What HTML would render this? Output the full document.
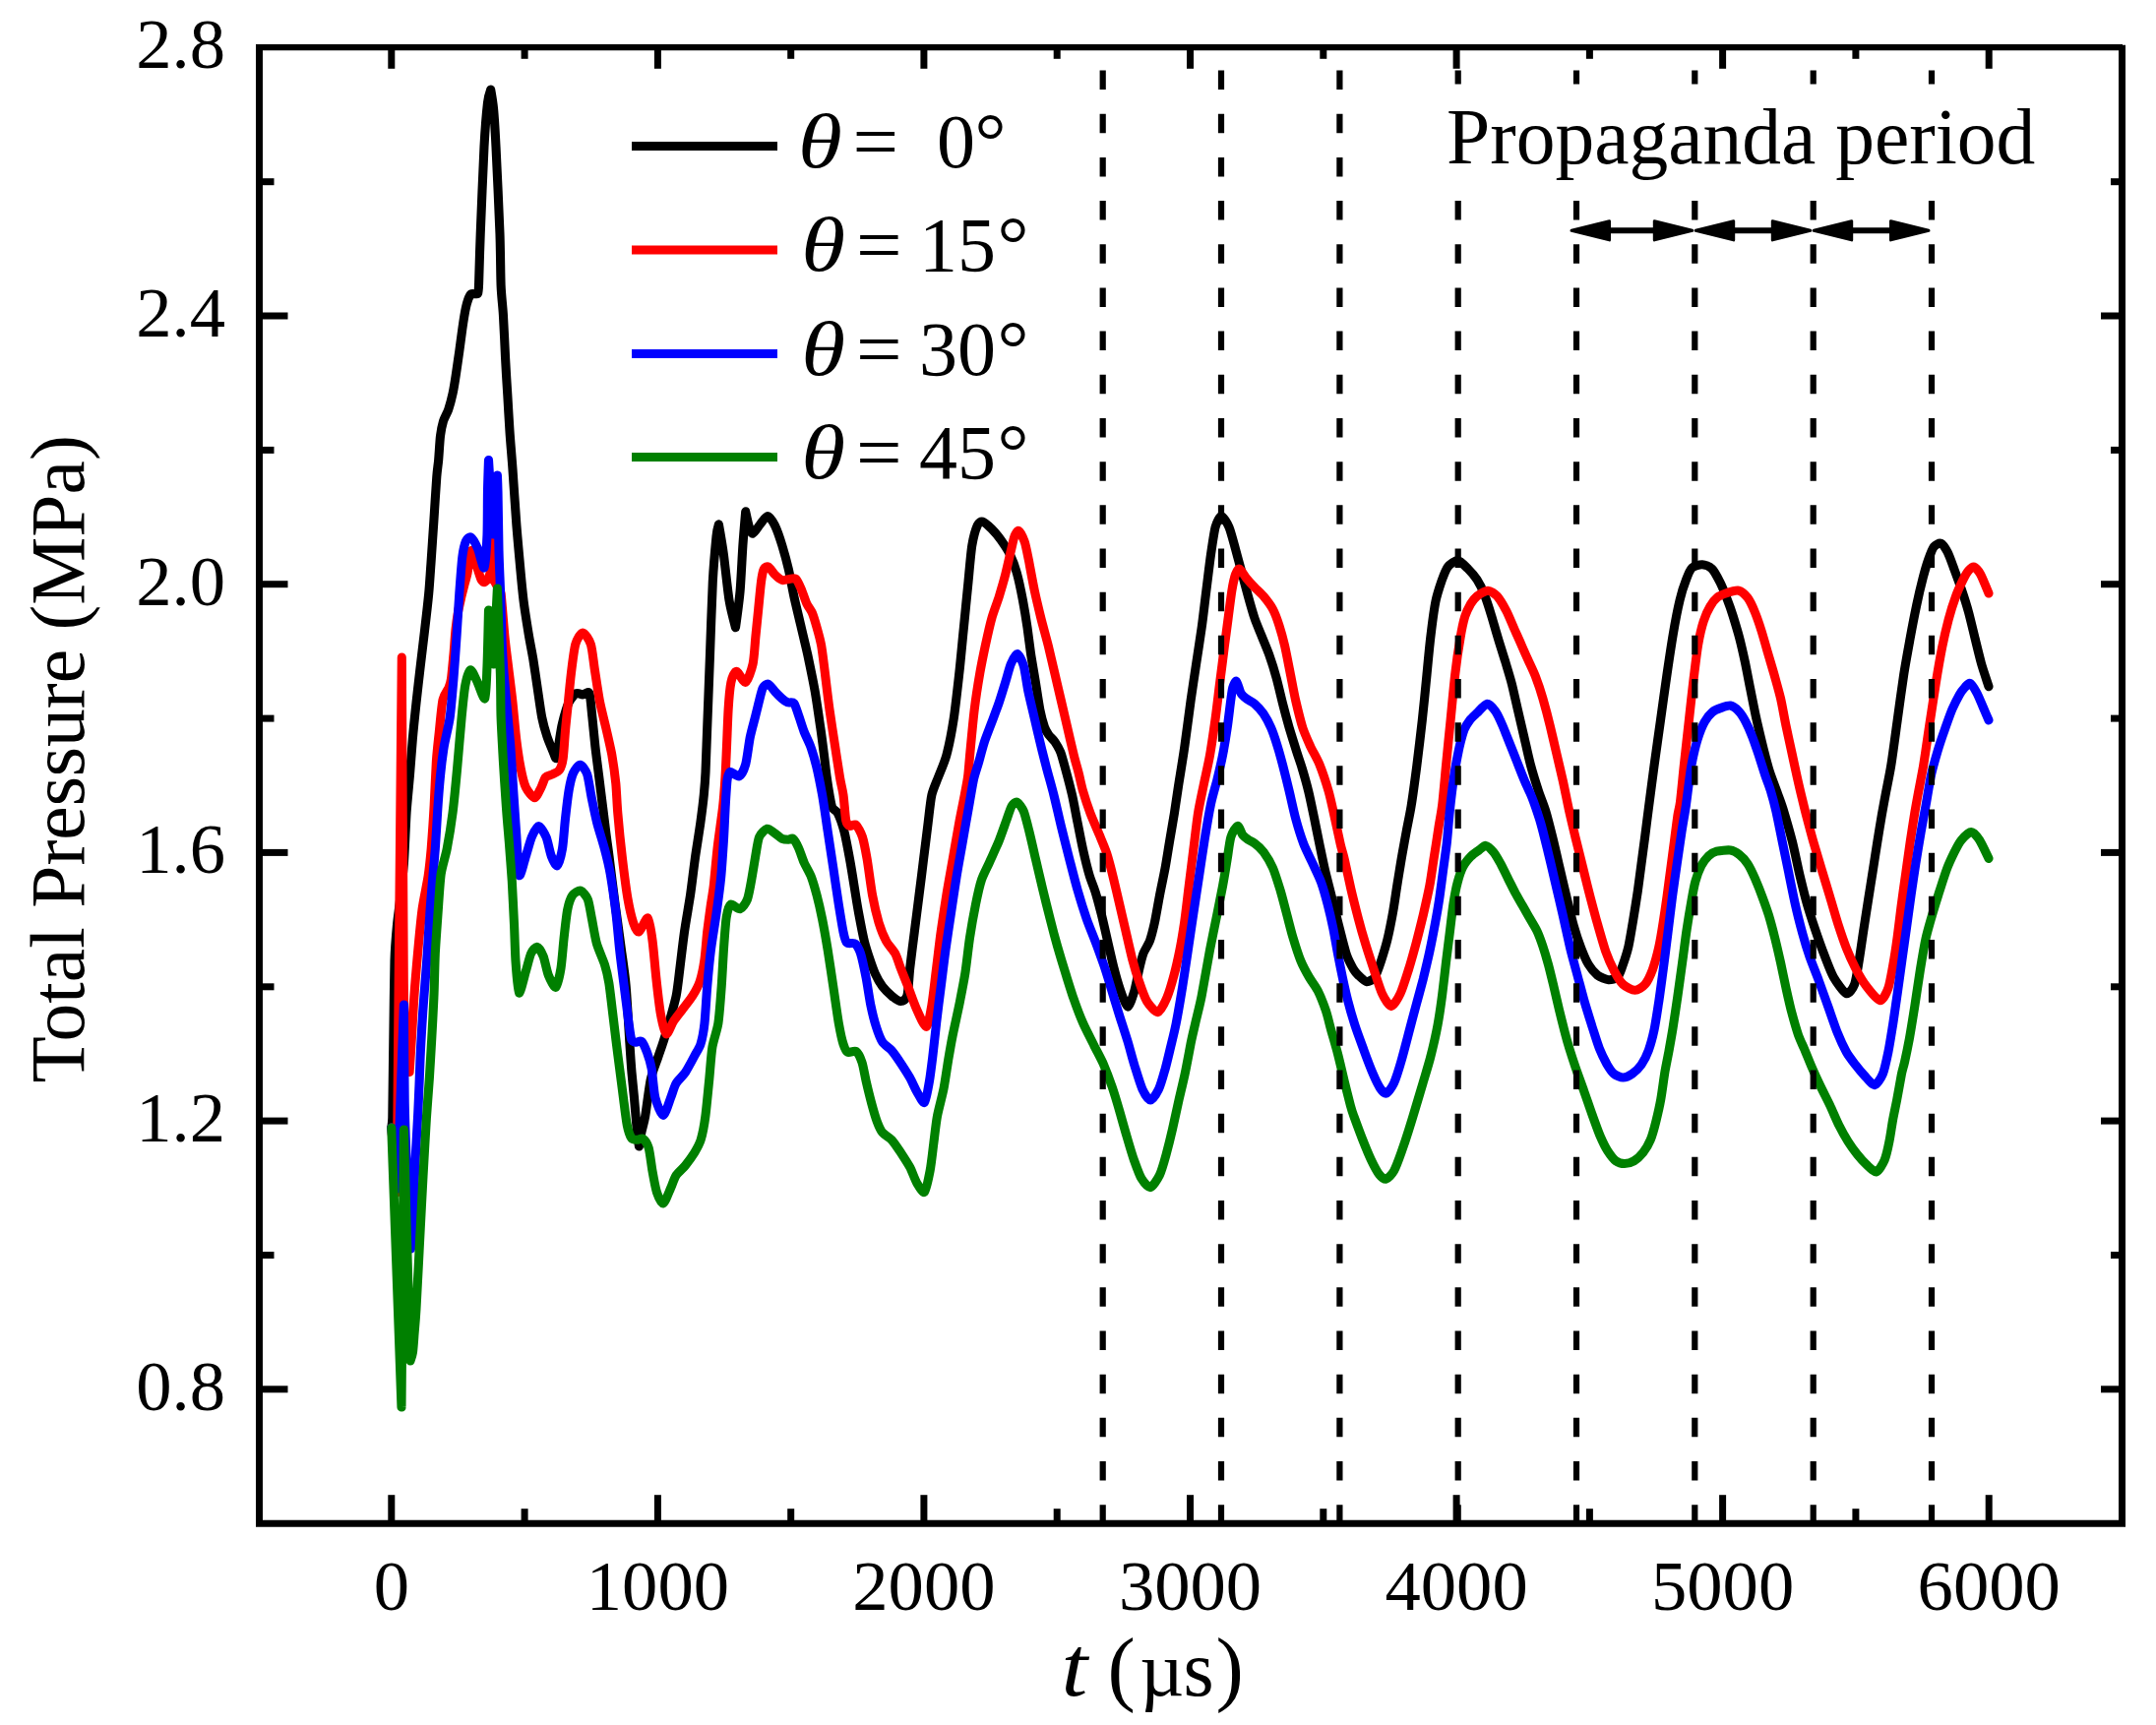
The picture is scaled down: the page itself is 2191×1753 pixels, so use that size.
<!DOCTYPE html>
<html lang="en"><head><meta charset="utf-8"><title>Total pressure vs time</title>
<style>html,body{margin:0;padding:0;background:#fff}body{width:2191px;height:1753px;overflow:hidden}svg{display:block}text{font-family:"Liberation Serif",serif;fill:#000}.it{font-style:italic}</style></head><body>
<svg width="2191" height="1753" viewBox="0 0 2191 1753">
<rect x="0" y="0" width="2191" height="1753" fill="#fff"/>
<g fill="none" stroke-width="9.1" stroke-linecap="round" stroke-linejoin="round">
<path stroke="#000" d="M397.8,1146C397.9,1144.8 398.7,1141 398.8,1136C398.9,1131 399.7,1063 400,1043C400.3,1023 400.6,988.9 401,976C401.4,963.1 402.8,947.4 403.5,940C404.2,932.6 405.4,924.8 406.3,917C407.2,909.2 409.5,888.9 410.4,877.5C411.2,866.1 412.4,836.6 413.1,825.5C413.9,814.4 415.6,797.7 416.4,788.4C417.2,779.1 418.5,760.6 419.3,751.3C420.1,742 422,723.5 423,714.2C424,705 426.1,686.5 427.2,677.3C428.3,668 430.5,649.5 431.6,640.2C432.7,631 434.9,611.6 435.7,603.3C436.5,595 437.2,582.9 437.9,573.6C438.5,564.3 440.2,540.1 440.9,529C441.6,517.9 443.2,492.1 443.8,484.5C444.4,476.9 445.1,473.3 445.6,468.1C446.1,462.9 446.9,448 447.5,443C448.1,438 449.5,431.4 450.5,428C451.5,424.6 454.5,419.7 455.7,416.2C456.9,412.7 459.1,404.4 460.1,399.8C461.1,395.2 462.8,384.4 463.6,379C464.4,373.6 466,362.4 466.8,356.8C467.6,351.2 469,340.1 469.8,334.5C470.6,328.9 472.5,316.7 473.5,312.3C474.5,307.9 476.9,301.2 478,299.5C479.1,297.8 481.1,298.8 482,298.6C482.9,298.4 485,299.5 485.6,298.2C486.2,296.9 486.4,293.1 486.6,288C486.8,282.9 487.5,255.5 488.2,238.1C488.9,220.7 491.1,165.7 492,149C492.9,132.3 494.7,111.4 495.5,104.5C496.3,97.6 498.7,91 498.7,91C498.7,91 500.8,102.8 501.5,110C502.2,117.2 503.2,133 504,149C504.8,165 507.4,220.4 508,238C508.6,255.6 508.7,279.8 509.1,290C509.5,300.2 510.8,310.4 511.4,319.7C512,329 513.1,354 513.6,364.2C514.1,374.4 515.2,392 515.8,401.3C516.3,410.6 517.4,428.9 518,438.4C518.6,447.9 520.2,465.5 521,477.1C521.8,488.7 523.8,518.9 524.7,531C525.6,543.1 527.5,563.6 528.4,573.6C529.3,583.6 531,601.8 532.1,610.7C533.2,619.6 536.1,637.6 537.3,645C538.5,652.4 540.7,662.9 541.8,669.7C542.9,676.5 545.1,692 546.2,699.4C547.3,706.8 549.5,722.9 550.7,729C551.9,735.1 554.5,744.1 555.9,748.4C557.3,752.7 560.6,760.4 561.8,763.2C563,766 564.7,772 565.5,770.6C566.3,769.2 567.8,756.5 568.5,752C569.2,747.5 570.3,739.8 571.5,735C572.7,730.2 576.2,717.8 578,714C579.8,710.2 583.8,705.6 585.6,704.6C587.4,703.6 590.5,706 592.2,706C593.9,706 597.7,701.7 598.9,704.6C600.1,707.5 601.1,722.2 601.9,729C602.6,735.8 604.1,751.3 604.9,758.7C605.7,766.1 607.7,781 608.6,788.4C609.5,795.8 611.4,810.7 612.3,818.1C613.2,825.5 615.2,841.3 616,847.8C616.8,854.3 617.9,861.2 619,870C620.1,878.8 623.4,906.1 625,918C626.6,929.9 630.1,954.9 631.5,965.5C632.9,976.1 635.2,990.8 636.2,1002.6C637.2,1014.4 639.2,1049.1 639.9,1060C640.6,1070.9 641.4,1083 642,1090C642.6,1097 643.9,1108.8 644.5,1115.7C645.1,1122.6 646.4,1138.8 647,1145C647.6,1151.2 649.4,1165 649.4,1165C649.4,1165 651.2,1153.8 652,1150C652.8,1146.2 654.6,1140.8 655.7,1134.2C656.9,1127.6 659.6,1104.5 661.2,1097.1C662.8,1089.7 667,1079.6 668.6,1074.8C670.2,1070 672.8,1062.7 674.2,1058.3C675.6,1053.9 678.2,1045.5 679.8,1039.7C681.4,1033.9 685.8,1018.9 687.2,1011.9C688.6,1004.9 689.9,992.2 690.9,984.1C691.9,976 694.2,956.3 695.5,947C696.8,937.7 700.1,919.2 701.5,909.9C702.9,900.6 705,882.1 706.3,872.8C707.6,863.5 710.8,843.8 711.9,835.7C713,827.6 714.7,814.1 715.3,807.8C715.9,801.5 716.6,793.5 717,785C717.4,776.5 718.1,754.6 718.7,739.7C719.3,724.8 720.8,684 721.5,665.5C722.2,647 723.5,606.4 724.3,591.3C725.1,576.2 727.4,551 728,544.9C728.6,538.8 730.4,532.9 730.4,532.9C730.4,532.9 734.1,553.9 735.4,563.5C736.7,573.1 739.5,600.6 741,609.9C742.5,619.2 747.5,637.7 747.5,637.7C747.5,637.7 751.2,611 752.1,600.6C753,590.2 754.2,564.3 754.9,554.2C755.6,544.1 757.7,519.9 757.7,519.9C757.7,519.9 760.5,532.9 761.4,535.7C762.3,538.5 763.7,542.6 765.1,542.2C766.5,541.9 770.6,535.1 772.5,532.9C774.4,530.7 778.1,524.4 780,524.5C781.9,524.6 785.5,530.1 787.4,533.8C789.2,537.5 793.1,548.6 794.8,554.2C796.5,559.8 799.8,571.8 801.3,578.3C802.8,584.8 805.4,599.2 806.9,606.2C808.4,613.2 811.7,626.6 813.4,634C815.1,641.4 818.9,656.9 820.8,665.5C822.6,674.1 826.6,693.3 828.2,702.6C829.8,711.9 832.6,731.6 833.8,739.7C835,747.8 836.7,761.3 837.5,767.6C838.3,773.9 839.5,785 840.2,790C840.9,795 842.3,803.9 843,807.8C843.7,811.6 844.8,818.5 845.8,820.8C846.8,823.1 849.9,823.4 851.4,826.4C852.9,829.4 856.4,839.1 857.9,844.9C859.4,850.7 862.2,865.8 863.5,872.8C864.8,879.8 867,893.6 868.1,900.6C869.2,907.6 871.4,921.4 872.7,928.4C874,935.4 876.9,950.5 878.3,956.3C879.7,962.1 882.5,970.6 883.9,974.8C885.3,979 887.8,986.2 889.4,989.7C891,993.2 894.7,999.8 896.8,1002.6C898.9,1005.4 903.8,1010 906.1,1011.9C908.4,1013.8 913.4,1017.5 915.4,1017.5C917.4,1017.5 920.7,1016 921.9,1011.9C923.1,1007.8 923.8,992.2 924.7,984.1C925.6,976 928.1,956.3 929.3,947C930.5,937.7 932.8,919.2 934,909.9C935.2,900.6 937.5,882.1 938.6,872.8C939.8,863.5 942.2,843.8 943.2,835.7C944.2,827.6 945.6,813.5 946.9,807.8C948.2,802.1 951.5,795 953.4,790C955.3,785 959.8,775 961.8,767.6C963.8,760.2 967.6,740.9 969.2,730.5C970.8,720.1 973.5,695.7 974.8,684.1C976.1,672.5 978.2,649.3 979.4,637.7C980.5,626.1 983,601.7 984,591.3C985,580.9 986.6,561.4 987.8,554.2C989,547 992,536.7 993.3,533.8C994.6,530.9 996.8,529.6 998.6,530.1C1000.4,530.6 1005.5,535.2 1007.8,537.5C1010.1,539.8 1014.8,545.4 1017.1,548.6C1019.4,551.9 1024.4,559.3 1026.4,563.5C1028.4,567.7 1031.7,576.3 1033.3,582.1C1034.9,587.9 1038.1,603 1039.4,609.9C1040.7,616.8 1043,630.8 1044,637.7C1045,644.7 1046.7,658.5 1047.7,665.5C1048.8,672.5 1051.3,686.5 1052.4,693.4C1053.5,700.3 1055.7,715.4 1056.8,721.1C1057.9,726.7 1060.3,735.6 1061.4,738.8C1062.5,742 1064.4,744.9 1065.7,746.8C1067,748.7 1070.4,751.5 1071.9,753.7C1073.3,755.8 1076.3,760.8 1077.7,764.2C1079,767.5 1081,775.1 1082.5,780.6C1084,786.1 1087.9,800.9 1089.5,807.8C1091.1,814.7 1093.6,828.7 1095,835.7C1096.4,842.7 1099.1,856.8 1100.6,863.5C1102.1,870.2 1105.5,884.1 1107.1,889.5C1108.7,894.9 1111.6,901.5 1113.1,906.4C1114.6,911.2 1117.5,922.2 1119.1,928.4C1120.7,934.6 1124,949.3 1125.6,956.3C1127.2,963.3 1130.5,977.8 1132.1,984.1C1133.7,990.4 1136.9,1001.5 1138.6,1006.4C1140.3,1011.3 1144.3,1022.9 1146,1023.1C1147.7,1023.3 1151,1013 1152.5,1008.2C1154,1003.4 1156.6,989.4 1157.8,984.5C1158.9,979.6 1160.5,972.8 1161.8,969.2C1163.1,965.6 1167.1,959.9 1168.5,956C1170,952 1172.1,943.4 1173.4,937.6C1174.6,931.8 1177.2,916.8 1178.5,909.9C1179.8,903 1182.8,889 1184.1,882C1185.4,875 1187.5,861.2 1188.7,854.2C1189.9,847.2 1192.3,833.3 1193.4,826.4C1194.5,819.5 1196.2,807.5 1197.5,799C1198.8,790.5 1202.4,769.1 1203.9,758.2C1205.5,747.3 1208.6,722.3 1210.1,711.9C1211.6,701.5 1214.2,684.1 1215.6,674.8C1217,665.5 1219.9,647 1221.2,637.7C1222.5,628.4 1224.6,609.9 1225.8,600.6C1227,591.3 1229.3,571.6 1230.5,563.5C1231.7,555.4 1233.8,540.6 1235.1,535.7C1236.4,530.8 1239.5,524.5 1241.2,524.5C1242.9,524.5 1247.2,531.5 1249,535.7C1250.8,539.9 1253.9,552.1 1255.5,557.9C1257.1,563.7 1260.4,576 1262,582C1263.6,588 1266.9,600.4 1268.5,606.2C1270.1,612 1273.3,623.3 1275,628.4C1276.7,633.5 1280.6,642.4 1282.4,647C1284.2,651.6 1287.9,660.2 1289.8,665.5C1291.7,670.8 1295.6,683.3 1297.3,689.6C1299,695.9 1302.1,709.3 1303.7,715.6C1305.3,721.9 1308.5,733.7 1310.2,739.7C1312,745.7 1316.1,758.8 1317.7,763.9C1319.3,769 1321.7,775.6 1323.2,780.6C1324.7,785.6 1328.2,797.9 1329.7,804.1C1331.2,810.3 1333.9,823.4 1335.3,830.1C1336.7,836.8 1339.5,851.2 1340.9,857.9C1342.3,864.6 1345,877.9 1346.4,883.9C1347.8,889.9 1350.6,900.6 1352,906.2C1353.4,911.8 1356.1,922.8 1357.5,928.4C1358.9,934 1361.7,945.4 1363.1,950.7C1364.5,956 1367.2,966.8 1368.7,971.1C1370.2,975.4 1374,982.4 1375.4,984.9C1376.9,987.4 1378.7,989.5 1380.4,991.1C1382.1,992.7 1386.7,997.4 1388.8,997.6C1390.9,997.8 1395.2,995.7 1397.1,993C1398.9,990.3 1402,981.2 1403.6,976.3C1405.2,971.4 1408.6,960.3 1410.1,954C1411.6,947.7 1414.4,933.4 1415.7,926.2C1417,919 1419.1,903.7 1420.3,896.5C1421.5,889.3 1423.7,875.3 1424.9,868.6C1426.1,861.9 1428.4,849 1429.6,842.7C1430.8,836.5 1432.9,826.7 1434.2,818.6C1435.5,810.5 1438.4,789.1 1439.8,778.3C1441.2,767.5 1444,743.5 1445.3,731.9C1446.6,720.3 1449,695.9 1450,685.5C1451,675.1 1452.6,657.7 1453.7,648.4C1454.8,639.1 1457.4,618.7 1458.9,611.4C1460.3,604.1 1463.7,594.3 1465.2,589.9C1466.8,585.5 1469.3,578.6 1471.3,576.1C1473.3,573.6 1479,569.4 1481.5,569.6C1484,569.8 1489.3,575.5 1491.7,577.9C1494.1,580.3 1498.9,585.9 1501,589.1C1503.1,592.4 1506.6,599.3 1508.4,603.9C1510.2,608.5 1514.1,620.6 1515.8,626.2C1517.5,631.8 1520.5,642.6 1522.3,648.4C1524,654.2 1528,666.7 1529.8,672.5C1531.5,678.3 1534.7,688.5 1536.3,694.8C1537.9,701.1 1541.1,715.6 1542.7,722.6C1544.3,729.6 1547.6,743.5 1549.2,750.5C1550.8,757.5 1553.9,771.6 1555.7,778.3C1557.5,785 1561.6,798.2 1563.5,804C1565.4,809.8 1569,818.3 1570.8,824.3C1572.6,830.3 1576.3,845 1578,851.9C1579.7,858.8 1582.8,872.4 1584.5,879.8C1586.2,887.2 1590.1,903.6 1591.9,911.3C1593.8,918.9 1597.5,934.5 1599.3,941C1601.1,947.5 1604.8,958.4 1606.7,963.3C1608.6,968.2 1612.1,976.5 1614.2,980C1616.3,983.5 1621,989.1 1623.5,991.1C1626,993.1 1632,995.5 1634.6,995.7C1637.1,995.9 1642.1,994.8 1643.9,993C1645.7,991.2 1647.5,985.4 1648.9,981.5C1650.3,977.5 1653.7,967.2 1655,961.4C1656.3,955.6 1658.4,942.4 1659.6,935.4C1660.8,928.4 1663.2,912.9 1664.3,905.7C1665.3,898.5 1667.1,884.9 1668,877.9C1668.9,870.9 1670.8,857.2 1671.7,850.1C1672.6,843 1674.2,830 1675.4,821C1676.6,812 1679.5,789.4 1681,778.3C1682.5,767.2 1685.9,743.5 1687.5,731.9C1689.1,720.3 1692.4,696.4 1694,685.5C1695.6,674.6 1698.6,654.5 1700.2,645C1701.8,635.5 1705.4,616.8 1707.1,609.8C1708.7,602.9 1711.9,593.3 1713.5,589.2C1715,585.1 1717.4,578.9 1719.5,577C1721.6,575.1 1727.4,573.7 1729.9,573.8C1732.4,573.9 1737.3,575.6 1739.6,577.9C1741.9,580.1 1746,587.8 1748,591.8C1750,595.8 1753.8,605.2 1755.4,609.5C1757.1,613.8 1759.7,621.3 1761.2,626.2C1762.7,631.1 1766.2,642.6 1767.7,648.4C1769.2,654.2 1771.9,666 1773.3,672.5C1774.7,679 1777.4,693.4 1778.8,700.4C1780.2,707.4 1782.9,721.2 1784.4,728.2C1785.9,735.2 1789.2,749 1790.9,756C1792.6,763 1796.4,777.8 1798.3,783.9C1800.2,790 1804.3,800.2 1806,805C1807.7,809.8 1810.1,815.7 1812,822C1813.9,828.3 1819.4,847.3 1821.5,855.7C1823.6,864.1 1827,881.2 1828.9,889.1C1830.8,897 1834.4,911.8 1836.4,918.7C1838.4,925.7 1842.5,938.2 1844.7,944.7C1846.9,951.2 1851.7,964.7 1854,970.7C1856.3,976.7 1860.5,988.1 1863.3,993C1866.1,997.9 1873.6,1008.7 1876.3,1009.6C1879,1010.5 1883,1004.6 1884.6,1000.4C1886.2,996.2 1888,983.3 1889.2,976.3C1890.4,969.3 1892.7,952.4 1893.9,944.7C1895.1,937 1897.3,922.4 1898.5,915C1899.7,907.6 1902,892.7 1903.2,885.3C1904.4,877.9 1906.6,862.9 1907.8,855.7C1909,848.5 1911.3,834.1 1912.4,827.8C1913.5,821.5 1915.4,811.2 1916.6,805C1917.8,798.8 1920.2,787.4 1921.7,778.3C1923.2,769.2 1926.6,743.5 1928.2,731.9C1929.8,720.3 1933.1,695.9 1934.7,685.5C1936.3,675.1 1939.6,657.2 1941.2,648.4C1942.8,639.6 1946.1,622.6 1947.7,615C1949.3,607.4 1952.7,593 1954.2,587.2C1955.7,581.4 1958.3,572.5 1959.7,568.6C1961.1,564.7 1963.7,557.7 1965.3,555.7C1966.9,553.7 1970.7,551.6 1972.4,552.3C1974.1,553 1977.5,558 1979.2,561.2C1980.9,564.4 1984,573.3 1985.7,577.9C1987.4,582.5 1991.2,592.7 1993.1,598.3C1995,603.9 1998.9,616.1 2000.6,622.4C2002.3,628.7 2005.4,641.9 2007,648.4C2008.6,654.9 2011.8,668.2 2013.5,674.4C2015.2,680.5 2020.1,694.7 2021,697.6"/>
<path stroke="#ff0000" d="M397.8,1146C398.5,1154.2 403.2,1212 403.2,1212C403.2,1212 408.3,668 408.3,668C408.3,668 410,966 410.3,1000C410.6,1034 411.6,1057.1 412.3,1068C413,1078.9 416.1,1089.5 416.1,1089.5C416.1,1089.5 418,1060.2 418.6,1050.7C419.2,1041.2 420.1,1023.8 420.8,1013.6C421.5,1003.4 423.5,980.1 424.5,969C425.5,957.9 427.7,934.4 429,924.5C430.3,914.6 434.1,897.7 435.2,890C436.3,882.3 437.4,871.6 438.2,862.6C438.9,853.6 440.6,829.2 441.2,818.1C441.8,807 442.8,782.9 443.4,773.6C444,764.3 445.5,751.7 446.3,743.9C447.1,736.1 448.8,716.8 450,711.2C451.2,705.6 454.9,701.6 456,699C457.1,696.4 457.9,694.2 458.5,690C459.1,685.8 460.4,671.2 461,665C461.6,658.8 462.4,645.4 463,640C463.6,634.6 464.8,626 465.5,622C466.2,618 467.7,611.5 468.5,608C469.3,604.5 471.2,597.2 472,594C472.8,590.8 474.1,586.8 475,582.5C475.9,578.2 478,560.6 479.1,559.5C480.2,558.4 482.6,569.9 483.9,573.6C485.1,577.3 488.1,587.3 489.1,589.2C490.1,591.1 491.7,592.2 492.8,591.4C493.9,590.6 497.1,587.6 498,582.5C498.9,577.4 500.2,550.6 500.2,550.6C500.2,550.6 501.5,584.2 502,588.4C502.5,592.6 504.6,594.1 505.5,596C506.4,597.9 508.5,599.3 509.1,603.3C509.7,607.3 512.1,638.6 513,647.8C513.9,657 515.5,668.7 516.5,677C517.5,685.3 520,704.9 521,714.2C522,723.5 523.7,742.9 524.7,751.3C525.7,759.6 528,774.9 529.2,781C530.4,787.1 532.6,796.6 534.4,800.3C536.2,804 541.4,810.7 543.3,810.7C545.2,810.7 548.5,802.9 549.9,800.3C551.3,797.7 553,791.6 554.4,789.9C555.8,788.2 559.3,787.9 561.1,787C562.9,786.1 567.1,784.5 568.5,782.5C569.9,780.5 571.5,775.4 572.2,770.6C572.9,765.8 573.8,750.9 574.4,743.9C575,736.9 576.6,721.6 577.4,714.2C578.1,706.8 579.5,691.9 580.4,684.5C581.3,677.1 583.3,660 584.8,654.8C586.3,649.6 590.2,643 592.2,643C594.2,643 598.9,650.2 600.4,654.8C601.9,659.4 603.2,672.9 604.3,680C605.4,687.1 607.9,704.4 609.3,711.9C610.7,719.4 614.2,732.8 615.8,739.7C617.4,746.6 620.5,760 621.8,767C623,774 625,788.6 625.8,796C626.5,803.4 627,816.8 627.8,826.4C628.6,836 631.2,861.9 632.5,872.8C633.8,883.7 636.6,905.5 638,913.6C639.4,921.7 642.2,933.5 643.6,937.7C645,941.9 647.4,947.6 649.2,947C651.1,946.4 656.7,931.8 658.4,933C660.1,934.2 662.1,948.8 663.1,956.3C664.1,963.8 665.8,984.1 666.8,993.4C667.8,1002.7 670.1,1023.3 671.4,1030.5C672.7,1037.7 675.4,1050 677,1050.9C678.6,1051.8 682.4,1040.9 684.4,1037.9C686.4,1034.9 690.4,1030 692.8,1026.7C695.2,1023.5 701.6,1015.6 703.9,1011.9C706.2,1008.2 709.8,1001.7 711.3,997.1C712.8,992.5 715.1,981.1 716,974.8C716.9,968.5 718,953.6 718.7,947C719.5,940.4 721.2,927.9 722,922C722.8,916.1 724.4,907.8 725.3,900C726.2,892.2 728.1,870 729.3,860C730.5,850 733.6,828.8 734.6,820C735.6,811.2 736.5,797.7 737,790C737.5,782.3 738.1,766.9 738.5,758.3C738.9,749.7 739.6,729.3 740.1,721.2C740.6,713.1 741.9,698.3 742.9,693.4C743.9,688.5 746.5,682.2 748.4,682.2C750.2,682.2 755.6,694.3 757.7,693.4C759.8,692.5 763.8,680.6 765.1,674.8C766.4,669 767.2,654 767.9,647C768.6,640 770,626.1 770.7,619.1C771.4,612.1 772.8,596.4 773.5,591.3C774.2,586.2 775.4,580.2 776.3,578.3C777.2,576.4 779.5,575.4 780.9,576.1C782.3,576.8 785.7,582.2 787.4,583.9C789.1,585.6 792.9,588.9 794.8,589.5C796.6,590.1 800.5,588.7 802.2,588.5C803.9,588.3 807.2,586.9 808.7,588.2C810.2,589.5 812.9,595.5 814.3,598.7C815.7,601.9 818.5,610.6 819.9,613.6C821.3,616.6 824.1,619.9 825.4,622.9C826.7,625.9 828.9,633.5 830.1,637.7C831.3,641.9 833.7,650.5 834.7,656.3C835.7,662.1 837.4,676 838.4,684.1C839.4,692.2 841.7,711.9 843,721.2C844.3,730.5 847.3,749.7 848.6,758.3C849.9,766.9 852.5,783.8 853.5,790C854.5,796.2 856.2,802.3 857,807.8C857.8,813.3 859,830.5 859.7,833.8C860.4,837.1 862.2,838.8 863.5,839.4C864.8,840 868.4,837 870,838.4C871.6,839.8 875,846.2 876.4,850.5C877.8,854.8 879.8,865.4 881.1,872.8C882.4,880.2 885.1,901.8 886.6,909.9C888.1,918 891.4,931.9 893.1,937.7C894.9,943.5 898.5,952.4 900.6,956.3C902.7,960.2 907.9,965.7 909.8,969.2C911.6,972.7 913.8,979.9 915.4,984.1C917,988.3 920.8,997.5 922.8,1002.6C924.8,1007.7 928.9,1019.8 931.2,1024.9C933.5,1030 939.4,1043.9 941.4,1043.4C943.4,1042.9 945.6,1028.6 946.9,1021.2C948.2,1013.8 950.4,993.4 951.6,984.1C952.8,974.8 954.9,956.3 956.2,947C957.5,937.7 960.3,919.2 961.8,909.9C963.3,900.6 966.7,882.1 968.3,872.8C969.9,863.5 973.3,843.8 974.8,835.7C976.3,827.6 979.2,813.5 980.3,807.8C981.4,802.1 982.8,795 983.5,790C984.2,785 984.8,776.2 985.6,767.6C986.4,759 988.9,731.6 990.2,721.2C991.5,710.8 994.4,692.2 995.8,684.1C997.2,676 999.8,663.3 1001.3,656.3C1002.8,649.3 1006,634.7 1007.8,628.4C1009.5,622.1 1013.6,611.8 1015.3,606.2C1017,600.6 1020.2,589.7 1021.7,583.9C1023.2,578.1 1026.1,564.7 1027.3,559.8C1028.5,554.9 1030,547.4 1031,544.9C1032,542.4 1034,538.7 1035.3,539.4C1036.6,540.1 1039.9,546.8 1041.2,550.5C1042.5,554.2 1044.1,562.9 1045.4,569.2C1046.6,575.5 1049.8,593.2 1051.4,600.6C1053,608 1056.2,621.4 1057.9,628.4C1059.6,635.4 1063.6,649.3 1065.3,656.3C1067,663.3 1070.2,677.1 1071.8,684.1C1073.4,691.1 1076.7,704.9 1078.3,711.9C1079.9,718.9 1083.2,732.7 1084.8,739.7C1086.4,746.7 1089.9,761.9 1091.3,767.6C1092.7,773.3 1094.8,780.4 1096,785C1097.2,789.6 1099.1,798.9 1100.6,804.1C1102.1,809.3 1105.9,820.8 1108,826.4C1110.1,832 1115.2,843.5 1117.3,848.6C1119.4,853.7 1123,861.9 1124.7,867.2C1126.4,872.5 1129.6,884.8 1131.2,891.3C1132.8,897.8 1136.1,912.1 1137.7,919.1C1139.3,926.1 1142.6,940 1144.2,947C1145.8,954 1149,968.3 1150.7,974.8C1152.4,981.3 1156.2,993.6 1158.1,998.9C1159.9,1004.2 1163.2,1013.8 1165.5,1017.5C1167.8,1021.2 1174.2,1029.1 1176.7,1028.6C1179.2,1028.1 1183.8,1018.7 1185.9,1013.8C1188,1008.9 1191.8,995.7 1193.4,989.7C1195,983.7 1197.6,972 1198.9,965.5C1200.2,959 1202.4,945.8 1203.6,937.7C1204.8,929.6 1207,909.9 1208.2,900.6C1209.4,891.3 1211.6,872.8 1212.8,863.5C1214,854.2 1216.2,834.5 1217.5,826.4C1218.8,818.3 1221.5,806 1223,798.6C1224.5,791.2 1228,776.1 1229.5,767.6C1231,759.1 1233.8,739.8 1235.1,730.5C1236.4,721.2 1238.5,702.7 1239.7,693.4C1240.9,684.1 1243.4,664.4 1244.4,656.3C1245.5,648.2 1247.2,635.4 1248.1,628.4C1249,621.4 1250.9,606.2 1251.8,600.6C1252.7,595 1254.5,586.7 1255.5,583.9C1256.5,581.1 1258.4,577.8 1259.8,578.3C1261.2,578.8 1264.7,585.3 1266.6,587.6C1268.5,589.9 1272.8,594.6 1275,596.9C1277.2,599.2 1282,603.4 1284.3,606.2C1286.6,609 1291.5,615.4 1293.5,619.1C1295.5,622.8 1298.5,631.1 1300,635.8C1301.5,640.4 1304.2,650.3 1305.6,656.3C1307,662.3 1309.8,677.1 1311.2,684.1C1312.6,691.1 1315.1,705 1316.7,711.9C1318.3,718.8 1322,733.7 1323.8,739.5C1325.7,745.3 1329.5,753.6 1331.6,758.3C1333.7,763 1338.6,771.1 1340.9,776.8C1343.2,782.5 1348.1,797.2 1350.1,804.1C1352.1,811 1355.1,825.2 1356.6,831.9C1358.1,838.6 1361,852.6 1362.2,857.9C1363.4,863.2 1365.2,868.5 1366.5,874.2C1367.8,880 1371.3,896.5 1373,903.9C1374.7,911.3 1378.6,926.6 1380.4,933.6C1382.2,940.6 1385.8,953.1 1387.8,959.6C1389.8,966.1 1394.1,979.2 1396.2,985.5C1398.3,991.8 1402.3,1005 1404.5,1009.6C1406.7,1014.2 1411.5,1022.6 1413.8,1022.6C1416.1,1022.6 1420.9,1014.2 1423.1,1009.6C1425.3,1005 1429.4,991.8 1431.4,985.5C1433.4,979.2 1436.9,966.6 1438.8,959.6C1440.7,952.6 1444.5,937.3 1446.3,929.9C1448,922.5 1451.4,907.6 1452.8,900.2C1454.2,892.8 1456.2,877.9 1457.4,870.5C1458.6,863.1 1461,847.5 1462,840.8C1463,834.1 1464.9,824.8 1465.8,817C1466.7,809.2 1468.5,788.9 1469.5,778.3C1470.5,767.7 1472.9,743.5 1474.1,731.9C1475.2,720.3 1477.5,695.9 1478.7,685.5C1479.9,675.1 1482.7,655.9 1484,648.5C1485.2,641.1 1487.4,630.8 1488.7,626.5C1490,622.2 1492.9,616.5 1494.4,613.9C1496,611.3 1498.8,607.5 1501,605.8C1503.2,604.1 1509.5,600.2 1512.1,600.2C1514.6,600.2 1519.1,603.2 1521.4,605.8C1523.7,608.3 1528.6,616.7 1530.7,620.6C1532.8,624.5 1536.2,633.1 1538.1,637.3C1539.9,641.5 1543.7,649.8 1545.5,654C1547.3,658.2 1551,666.5 1552.9,670.7C1554.8,674.9 1558.5,682.5 1560.4,687.4C1562.3,692.3 1566,703.3 1567.8,709.6C1569.6,715.9 1573.5,730.5 1575.2,737.5C1576.9,744.5 1580.1,758.3 1581.7,765.3C1583.3,772.2 1586.6,786 1588.2,793.1C1589.8,800.2 1592.6,814.6 1594.2,822C1595.8,829.4 1599.4,844.4 1601.2,851.9C1603,859.4 1606.8,874.2 1608.6,881.6C1610.4,889 1614.1,904.1 1616,911.3C1617.9,918.5 1621.5,932.1 1623.5,939.1C1625.5,946.1 1629.7,961 1631.8,967C1633.9,973 1638.4,982.9 1640.6,987.1C1642.8,991.3 1646.8,998 1649.4,1000.4C1652,1002.8 1658.7,1006.3 1661.5,1006.3C1664.3,1006.3 1669.5,1003 1671.7,1000.4C1673.9,997.8 1677.7,989.9 1679.4,985.3C1681.1,980.6 1684.2,969.3 1685.6,963.3C1687,957.3 1689.2,943.8 1690.2,937.3C1691.2,930.8 1693.1,918 1694,911.3C1694.9,904.6 1696.8,890.5 1697.7,883.5C1698.6,876.5 1700.5,862.7 1701.4,855.7C1702.3,848.7 1704.3,832.9 1705.1,827.8C1705.9,822.7 1706.7,821.2 1707.5,815C1708.3,808.8 1710.2,788.7 1711.3,778.3C1712.4,767.9 1715.2,742.9 1716.4,731.9C1717.6,720.9 1719.9,699.6 1721.1,690C1722.3,680.4 1724.4,662.4 1725.7,655C1727,647.6 1729.7,636.1 1731.3,631.2C1732.8,626.3 1736.3,618.9 1738.1,615.9C1739.8,612.9 1743.3,608.6 1745.3,607C1747.2,605.4 1751.1,603.9 1753.8,603C1756.5,602.1 1764,599.6 1766.8,600.2C1769.6,600.8 1774,604.8 1776.1,607.6C1778.2,610.4 1781.8,618.2 1783.5,622.4C1785.2,626.6 1788.4,635.9 1790,641C1791.6,646.1 1794.9,657.7 1796.5,663.3C1798.1,668.9 1801.4,679.7 1803,685.5C1804.6,691.3 1808,703.1 1809.5,709.6C1811,716.1 1813.6,730.8 1815,737.5C1816.4,744.2 1819.2,757 1820.6,763.5C1822,770 1824.9,783.6 1826.2,789.4C1827.5,795.2 1829.8,805.2 1831,810C1832.2,814.8 1833.9,822.1 1835.4,827.8C1836.9,833.5 1840.9,848.7 1842.9,855.7C1844.9,862.7 1849.1,876.5 1851.2,883.5C1853.3,890.5 1857.5,904.3 1859.6,911.3C1861.7,918.2 1865.8,932.6 1867.9,939.1C1870,945.6 1874.1,957.7 1876.3,963.3C1878.5,968.9 1883,978.8 1885.5,983.7C1888,988.6 1893.6,998.1 1896.7,1002.2C1899.8,1006.3 1907.8,1016.5 1910.6,1016.7C1913.4,1016.9 1917.3,1008.5 1918.9,1004.1C1920.5,999.7 1922.4,988.3 1923.6,981.8C1924.8,975.3 1927.2,959.5 1928.2,952.1C1929.2,944.7 1930.9,930.3 1931.9,922.4C1932.9,914.5 1935.3,897.4 1936.5,889.1C1937.7,880.8 1940,863.6 1941.2,855.7C1942.4,847.8 1944.8,832 1945.8,826C1946.8,820 1947.9,814 1949,808C1950.1,802 1953.1,787 1954.6,778.2C1956.1,769.4 1959.1,747.9 1960.7,737.5C1962.3,727.1 1965.6,704.8 1967.2,694.8C1968.8,684.8 1972.1,665.8 1973.7,657.7C1975.3,649.6 1978.4,636.4 1980.1,629.9C1981.8,623.4 1985.7,610.9 1987.6,605.8C1989.5,600.7 1993.4,592.4 1995,589.1C1996.6,585.9 1999.2,581.4 2000.6,579.8C2002,578.2 2004.6,575.6 2006.1,576.1C2007.6,576.6 2010.7,580.1 2012.6,583.5C2014.5,586.9 2020,600.6 2021,603"/>
<path stroke="#0000ff" d="M397.8,1146C398.6,1153.8 403.8,1208 403.8,1208C403.8,1208 410.4,1021 410.4,1021C410.4,1021 410.8,1097.6 411.2,1120C411.6,1142.4 413.2,1181.4 414,1200C414.8,1218.6 417.5,1269 417.5,1269C417.5,1269 418.8,1258.4 419.3,1248.4C419.8,1238.4 421,1203 421.6,1189C422.2,1175 423.9,1146.8 424.5,1136C425.1,1125.2 425.6,1111.4 426,1102.6C426.4,1093.8 427,1074.8 427.5,1065.5C428,1056.2 429.1,1036.8 429.7,1028.4C430.3,1020.1 431.4,1006.1 432,998.7C432.6,991.3 433.6,978.3 434.2,969C434.8,959.7 436.4,934.6 437.1,924.5C437.8,914.4 439.5,895.7 440.1,888C440.8,880.3 441.7,870.4 442.3,862.6C442.9,854.8 444,834.8 444.6,825.5C445.2,816.2 446.7,796.8 447.5,788.4C448.3,780 450,766.1 451.2,758.7C452.4,751.3 456,737.6 457.2,729C458.4,720.4 460,700.6 460.9,690C461.8,679.4 463.5,654.8 464.2,644C464.9,633.2 466.1,613 466.8,603.3C467.5,593.6 469,572.9 469.8,566.2C470.6,559.5 472.4,552.3 473.5,549.8C474.6,547.3 477.2,545.2 478.7,546.1C480.2,547 483.7,553.4 485.4,557.3C487.1,561.2 490.9,578.7 492.1,577C493.3,575.3 494.6,553.6 495,543.9C495.4,534.2 495.3,508.9 495.5,499.4C495.7,489.8 496.5,467.5 496.5,467.5C496.5,467.5 501.2,543 501.2,543C501.2,543 505.4,483 505.4,483C505.4,483 505.8,491.5 506,500C506.2,508.5 506.7,547.5 507,560C507.3,572.5 508.1,588.8 508.5,600C508.9,611.2 509.6,639.4 510,650C510.4,660.6 511.4,675.5 512.1,684.5C512.8,693.5 514.7,712.7 515.5,722C516.3,731.3 518,748.5 518.8,758.7C519.6,768.9 521,792.2 521.7,803.3C522.4,814.4 524,837 524.7,847.8C525.5,858.6 526.5,886.6 527.7,889.4C528.9,892.2 532.8,874.8 534.4,870C536,865.2 538.7,854.6 540.3,850.8C541.9,847 545.5,839.6 547.4,839.6C549.2,839.6 553.5,847 555.1,850.8C556.7,854.6 558.9,866.4 560.3,870C561.7,873.6 564.9,880.6 566.3,879.7C567.7,878.8 570.5,868.4 571.5,862.6C572.5,856.8 573.6,840.4 574.4,833C575.2,825.6 577.1,809.2 578.1,803.3C579.1,797.4 581.1,788.8 582.6,785.5C584.1,782.2 587.9,777.1 589.7,777.3C591.5,777.5 595.3,782.7 596.7,786.9C598.1,791.1 599.9,804.5 601.2,810.7C602.5,816.9 605.1,830 606.8,836.5C608.5,843 612.8,856.6 614.5,863C616.2,869.4 618.8,879.8 620.2,888C621.6,896.2 624.8,918.7 626,928.4C627.2,938.1 628.7,956.2 629.7,965.5C630.7,974.8 633.1,993.3 634.3,1002.6C635.5,1011.9 638.1,1033 639,1039.7C639.9,1046.4 640.8,1054 641.7,1056.4C642.6,1058.8 645.1,1059 646.4,1059.2C647.7,1059.4 650.6,1057 652,1058.3C653.4,1059.6 656.2,1065.9 657.5,1069.4C658.8,1072.9 661.2,1080.3 662.2,1086.1C663.2,1091.9 664.4,1109.8 665.9,1115.7C667.4,1121.6 672,1133.5 674,1133.5C676,1133.5 680,1119.8 681.6,1115.7C683.2,1111.6 685.3,1104 687.2,1100.8C689.1,1097.5 694.2,1093.2 696.5,1089.7C698.8,1086.2 703.9,1076.6 705.8,1073C707.7,1069.4 710.7,1065.2 712,1061C713.3,1056.8 715.2,1047 716,1039.7C716.8,1032.4 717.9,1011.9 718.7,1002.6C719.5,993.3 721.2,974.8 722.4,965.5C723.6,956.2 726.7,937.7 728,928.4C729.3,919.1 731.8,900.6 732.7,891.3C733.6,882 734.8,863.5 735.4,854.2C736,844.9 736.8,824.9 737.3,817.1C737.8,809.3 738.5,796.1 739.1,792C739.7,787.9 740.4,784.7 741.9,784.3C743.4,783.9 749.2,789.8 751.2,788.9C753.2,788 756.3,781.8 757.7,776.8C759.1,771.8 761.1,754.8 762.3,749C763.5,743.2 765.8,735.1 767,730.5C768.2,725.9 770.6,715.9 771.6,711.9C772.6,707.9 774.1,701 775.3,698.9C776.5,696.8 779.4,694.7 780.9,695.2C782.4,695.7 785.7,700.8 787.4,702.6C789.1,704.5 793.2,708.6 794.8,710C796.4,711.4 798.9,713.2 800.4,713.8C801.9,714.4 805.5,713.1 806.9,714.7C808.3,716.3 810.2,723.2 811.5,726.8C812.8,730.4 815.6,739.6 817.1,743.5C818.6,747.4 822,753.9 823.6,758.3C825.2,762.7 828.1,772.2 829.6,778.4C831.1,784.6 834.1,799.5 835.6,807.8C837.1,816.1 839.8,835.6 841.2,844.9C842.6,854.2 845.4,872.7 846.8,882C848.2,891.3 851,911 852.3,919.1C853.6,927.2 856,942.1 857,947C858,951.9 859.2,956.6 860.7,958.1C862.2,959.6 867.3,957.6 869,959C870.7,960.4 873.2,964.9 874.6,969.2C876,973.5 878.8,986.9 880.1,993.4C881.4,999.9 883.5,1015 884.8,1021.2C886.1,1027.5 888.9,1038.7 890.4,1043.4C891.9,1048.1 894.8,1056 896.8,1059C898.8,1062 903.8,1064.8 906.1,1067.5C908.4,1070.2 913.1,1077 915.4,1080.5C917.7,1084 922.6,1091.6 924.7,1095.3C926.8,1099 930.2,1107 932.1,1110.1C934,1113.2 938,1121.8 939.5,1120.3C941,1118.8 943.5,1104.4 944.5,1098.5C945.5,1092.6 947,1080.3 947.9,1073C948.8,1065.7 950.6,1048.5 951.6,1039.7C952.6,1030.9 955,1011.9 956.2,1002.6C957.4,993.3 959.6,974.8 960.9,965.5C962.2,956.2 965,937.7 966.4,928.4C967.8,919.1 970.5,900.6 972,891.3C973.5,882 976.9,863.5 978.5,854.2C980.1,844.9 983.6,824.9 985,817.1C986.4,809.3 988.3,797.4 989.5,792C990.7,786.6 993.5,778.7 994.8,774C996.1,769.3 998.6,759.6 1000.2,754.6C1001.8,749.6 1005.9,739.3 1007.8,734.2C1009.7,729.1 1013.6,718.9 1015.3,713.8C1017,708.7 1020.2,698.3 1021.7,693.4C1023.2,688.5 1025.8,678.4 1027.3,674.8C1028.8,671.2 1032.2,664.4 1033.8,664.6C1035.4,664.8 1038.9,672 1040.3,676.7C1041.7,681.5 1043.5,695.9 1044.9,702.6C1046.3,709.3 1049.8,723.5 1051.4,730.5C1053,737.5 1056.4,752.1 1057.9,758.3C1059.4,764.5 1061.9,774.1 1063.5,780.3C1065.1,786.5 1069.1,800.4 1070.9,807.8C1072.8,815.2 1076.3,831.3 1078.3,839.4C1080.3,847.5 1084.6,864.7 1086.7,872.8C1088.8,880.9 1092.8,896.6 1095,904.3C1097.2,911.9 1102,927.3 1104.3,934C1106.6,940.7 1111.3,951.8 1113.6,958.1C1115.9,964.4 1120.8,977.8 1122.9,984.1C1125,990.4 1128.5,1002.2 1130.3,1008.2C1132.1,1014.2 1135.7,1026 1137.7,1032.3C1139.7,1038.6 1144.1,1052 1146,1058.3C1147.9,1064.6 1151.1,1076.9 1153,1083C1154.9,1089.1 1158.9,1102.4 1160.9,1106.8C1162.9,1111.2 1167.1,1117.9 1169.2,1117.9C1171.3,1117.9 1175.7,1110.7 1177.6,1106.8C1179.5,1102.9 1182.6,1091.7 1184.1,1086.4C1185.6,1081.1 1188.2,1069.9 1189.6,1064.1C1191,1058.3 1193.7,1047.7 1195.2,1040C1196.7,1032.3 1200.2,1011.9 1201.7,1002.6C1203.2,993.3 1205.9,974.8 1207.3,965.5C1208.7,956.2 1211.4,937.7 1212.8,928.4C1214.2,919.1 1217,900.6 1218.4,891.3C1219.8,882 1222.5,863.5 1224,854.2C1225.5,844.9 1228.9,824.9 1230.5,817.1C1232.1,809.3 1235.5,798.2 1237,792C1238.5,785.8 1241.2,774.1 1242.5,767.6C1243.8,761.1 1246.2,746.6 1247.2,739.7C1248.2,732.8 1250,717.1 1250.7,712C1251.4,706.9 1252,701.4 1252.7,698.9C1253.4,696.4 1255.4,691.7 1256.4,692.4C1257.5,693.1 1259.8,702.3 1261.1,704.5C1262.4,706.7 1265.3,708.9 1267,710.3C1268.8,711.6 1272.7,713.3 1274.8,715.2C1276.9,717.1 1281.8,722.2 1283.9,725.2C1286,728.3 1289.9,735.6 1291.7,739.7C1293.5,743.8 1296.7,753.5 1298.2,758.3C1299.7,763.1 1302.2,772.3 1303.7,778C1305.2,783.7 1308.6,797.4 1310.2,804.1C1311.8,810.8 1314.9,825.2 1316.7,831.9C1318.5,838.6 1322.6,851.8 1324.8,857.6C1327,863.4 1332.2,873.4 1334.4,878.3C1336.6,883.2 1340.9,891.8 1342.7,896.9C1344.5,902 1347.7,913.3 1349.2,919.1C1350.7,924.9 1353.5,936.9 1354.8,943.3C1356.1,949.7 1358.1,961.8 1359.7,970.1C1361.3,978.4 1365.8,1000.6 1367.9,1009.5C1370,1018.4 1374.4,1034 1376.7,1041.2C1379,1048.4 1383.7,1060.9 1386,1067.2C1388.3,1073.5 1393.2,1086.4 1395.3,1091.3C1397.4,1096.2 1401,1103.6 1402.7,1106.1C1404.4,1108.6 1407.3,1111.7 1409,1111C1410.7,1110.3 1414.7,1104.7 1416.6,1100.6C1418.5,1096.5 1422.2,1084.6 1424,1078.3C1425.8,1072 1429.6,1057.5 1431.4,1050.5C1433.2,1043.5 1436.9,1029.6 1438.8,1022.6C1440.7,1015.6 1444.5,1001.8 1446.3,994.8C1448,987.8 1451.3,974 1452.8,967C1454.3,960 1457,946.1 1458.3,939.1C1459.6,932.1 1462,918.2 1463,911.3C1464,904.3 1465.8,890.5 1466.7,883.5C1467.6,876.5 1469.6,863 1470.4,855.7C1471.2,848.4 1472.3,833.5 1473.2,825C1474.1,816.5 1476.6,795.7 1477.8,787.6C1479,779.5 1481.7,765.6 1482.9,759.8C1484.2,754.1 1486.6,745.1 1487.9,741.6C1489.3,738.1 1492,734 1493.6,731.9C1495.2,729.8 1498.8,726.6 1501,724.5C1503.2,722.4 1508.9,715.4 1511.2,715.2C1513.5,715 1517.6,719.8 1519.6,722.6C1521.6,725.4 1525.2,733.3 1527,737.5C1528.8,741.7 1532.6,751.4 1534.4,756C1536.2,760.6 1540,770 1541.8,774.6C1543.6,779.2 1547.5,789.2 1549.2,793.1C1550.9,797 1553.8,803.3 1555,806C1556.2,808.7 1557.1,810.9 1558.5,814.8C1559.9,818.7 1564,830.6 1565.9,837.1C1567.8,843.6 1571.5,859.1 1573.4,866.8C1575.3,874.4 1579,890.4 1580.8,898.3C1582.6,906.2 1586.4,921.8 1588.2,929.9C1590,938 1593.8,955.6 1595.6,963.3C1597.4,970.9 1601.1,984.1 1603,991.1C1604.9,998.1 1608.6,1012.4 1610.5,1018.9C1612.4,1025.4 1616.1,1037.2 1617.9,1043C1619.8,1048.8 1623.4,1060.5 1625.3,1065.3C1627.2,1070.1 1631.3,1078.4 1633.1,1081.7C1635,1084.9 1638.1,1089.6 1640.1,1091.3C1642.1,1093 1647.1,1095 1649.4,1095C1651.7,1095 1656.4,1092.9 1658.7,1091.3C1661,1089.7 1665.9,1085 1668,1082C1670.1,1079 1673.8,1071.6 1675.4,1067.2C1677,1062.8 1679.7,1052.8 1681,1046.8C1682.3,1040.8 1684.4,1026.6 1685.6,1018.9C1686.8,1011.2 1689,994.3 1690.2,985.5C1691.4,976.7 1693.7,957.7 1694.9,948.4C1696.1,939.1 1698.3,920.1 1699.5,911.3C1700.7,902.5 1703,886 1704.2,877.9C1705.4,869.8 1707.7,853.8 1708.8,846.4C1709.9,839 1712,827.5 1713.3,819C1714.5,810.5 1717.3,786.7 1718.8,778.3C1720.3,769.9 1723.3,757.3 1725,751.7C1726.7,746.2 1730.2,737.3 1732.1,733.8C1734,730.2 1738,725.5 1740.1,723.7C1742.2,721.9 1746.6,720.2 1748.9,719.4C1751.2,718.6 1756.2,716.7 1758.4,717.1C1760.6,717.5 1764.8,720.5 1766.8,722.6C1768.8,724.7 1772.5,730.5 1774.2,733.8C1775.9,737 1779.1,744.4 1780.7,748.6C1782.3,752.8 1785.6,762.3 1787.2,767.2C1788.8,772.1 1792.2,783.1 1793.7,787.6C1795.2,792.1 1797.8,798.4 1799.2,803C1800.6,807.6 1803.3,817.5 1804.8,824.1C1806.3,830.7 1809.7,847.8 1811.3,855.7C1812.9,863.6 1816.2,879.3 1817.8,887.2C1819.4,895.1 1822.6,911.1 1824.3,918.7C1826,926.4 1829.9,941.7 1831.7,948.4C1833.5,955.1 1837,966.5 1839.1,972.5C1841.2,978.5 1846.1,990.4 1848.4,996.7C1850.7,1003 1855.3,1015.9 1857.7,1022.6C1860.1,1029.3 1865.2,1044.5 1867.6,1050.3C1869.9,1056.1 1874.1,1065 1876.3,1069C1878.5,1073 1883.2,1079 1885.5,1082C1887.8,1085 1892.4,1090.5 1894.8,1093.1C1897.2,1095.7 1902.7,1102.8 1905,1102.6C1907.3,1102.4 1911.7,1095.5 1913.4,1091.3C1915.1,1087.1 1917.6,1075.3 1918.9,1069C1920.2,1062.7 1922.4,1048.6 1923.6,1041.2C1924.8,1033.8 1927,1017.7 1928.2,1009.6C1929.4,1001.5 1931.6,984.6 1932.8,976.3C1934,968 1936.3,951.2 1937.5,942.9C1938.7,934.5 1940.9,917.6 1942.1,909.5C1943.3,901.4 1945.5,886 1946.8,877.9C1948.1,869.8 1951,851.9 1952.3,844.5C1953.6,837.1 1955.7,826.1 1957,819C1958.3,811.9 1961,794.5 1962.5,787.6C1964,780.7 1967.3,769.3 1969,763.5C1970.7,757.7 1974.5,746.5 1976.4,741.2C1978.3,735.9 1982,725.2 1983.9,720.8C1985.8,716.4 1989.7,708.7 1991.3,705.9C1992.9,703.1 1995.5,699.9 1996.8,698.5C1998.1,697.1 2000.5,693.7 2002,694.4C2003.5,695.1 2007.2,701 2008.9,704.1C2010.6,707.2 2013.9,715.4 2015.4,718.9C2016.9,722.4 2020.3,730.3 2021,731.9"/>
<path stroke="#008000" d="M397.8,1146C399.1,1181.5 408,1430 408,1430C408,1430 410.4,1148 410.4,1148C410.4,1148 417,1383 417,1383C417,1383 419,1377.4 419.5,1374C420,1370.6 420.6,1361.5 421,1356C421.4,1350.5 422.2,1342.8 423,1329.6C423.8,1316.4 426.3,1265.2 427.2,1248.4C428.1,1231.6 429.2,1209 430,1195C430.8,1181 432.6,1148.5 433.4,1136C434.2,1123.5 435.8,1104.9 436.4,1095.2C437,1085.5 438,1068.3 438.6,1058.1C439.2,1047.9 440.4,1024.7 440.9,1013.6C441.4,1002.5 441.8,980.1 442.3,969C442.9,957.9 444.6,934.6 445.3,924.5C446,914.4 447.1,895.7 448.2,888C449.3,880.3 452.7,870.4 454.2,862.6C455.7,854.8 458.8,835.7 460.1,825.5C461.4,815.3 463.5,793 464.6,781C465.7,769 468.1,739.7 469.1,729.1C470.1,718.5 471.7,702.4 472.8,696.4C473.9,690.4 476.5,681.3 478,680.8C479.5,680.2 482.8,688.4 484.6,692C486.5,695.6 491.5,711.7 492.8,709.8C494.1,707.9 494.5,688.2 495,677C495.5,665.8 496.5,620 496.5,620C496.5,620 501.5,675 501.5,675C501.5,675 505.4,598 505.4,598C505.4,598 507.9,668.1 508.4,684.5C508.9,700.9 508.7,718 509.1,729.1C509.5,740.2 510.8,762.5 511.4,773.6C512,784.7 513.6,807.9 514.3,818.1C515,828.3 516.5,845.5 517.3,855.2C518,864.9 519.6,884.9 520.3,895.4C520.9,905.9 522,929.3 522.5,939.4C523,949.5 523.4,967.8 524,976.5C524.6,985.2 526.1,1007.8 527.4,1009.1C528.7,1010.4 532.9,991.9 534.4,986.9C535.9,981.9 538.2,972.1 539.6,969C541,965.9 544.3,962 545.9,962.4C547.5,962.8 550.8,968.4 552.2,972C553.6,975.6 555.8,987.4 557.4,991.3C559,995.2 563.2,1004.1 564.8,1003.2C566.4,1002.3 569,990 570,983.9C571,977.8 572.2,961.6 573,954.2C573.8,946.8 575.6,930.1 576.7,924.5C577.8,918.9 580.2,912.1 581.9,909.7C583.6,907.3 588.1,904.7 590,905.2C591.9,905.8 596,910.5 597.4,914.1C598.8,917.7 600.4,928.5 601.5,934C602.6,939.5 604.7,952.7 606.3,958.5C607.9,964.3 613,975.6 614.6,980.6C616.2,985.6 617.8,992.7 618.8,998.7C619.8,1004.7 621.6,1021 622.5,1028.4C623.4,1035.8 625.2,1050.7 626.1,1058.1C627,1065.5 628.9,1080.4 629.9,1087.8C630.9,1095.2 632.8,1110.5 633.7,1117.5C634.6,1124.5 636.3,1138.6 637.3,1143.5C638.3,1148.4 640.5,1154.7 641.7,1156.5C643,1158.3 645.8,1158.2 647.3,1158.3C648.8,1158.4 652,1156.2 653.5,1157.2C655,1158.2 658,1162.5 659.2,1166.5C660.4,1170.5 661.9,1183.8 662.9,1189.5C663.9,1195.2 666.1,1207.5 667.5,1211.7C668.9,1215.9 672.2,1223.3 674,1222.8C675.8,1222.3 679.9,1211.2 681.5,1207.6C683.1,1204 685.3,1197.2 687.2,1194.3C689.1,1191.4 694.2,1187.2 696.5,1184.3C698.8,1181.4 703.8,1174.5 705.8,1171.3C707.8,1168 710.8,1162.9 712.2,1158.3C713.6,1153.7 715.9,1141.7 716.9,1134.2C717.9,1126.7 719.7,1107.3 720.6,1098.5C721.5,1089.7 722.7,1071.3 723.9,1064C725.1,1056.7 728.7,1047.4 729.9,1039.7C731.1,1032 732.5,1011.9 733.2,1002.6C733.9,993.3 734.8,974.3 735.4,965.5C736,956.7 737.3,937.9 738.2,932.1C739.1,926.3 740.8,920.1 742.5,919.1C744.2,918.1 750,924.5 752.1,923.8C754.2,923.1 758.1,917.7 759.6,913.6C761.1,909.5 763.2,896.9 764.2,891.3C765.2,885.7 767,874.2 767.9,869.1C768.8,864 770.1,853.9 771.6,850.5C773.1,847.1 777.6,842.7 779.6,842.2C781.6,841.7 785.5,845.5 787.4,846.8C789.3,848.1 793.1,851.6 794.8,852.4C796.5,853.2 799.9,853.3 801.3,853.3C802.7,853.3 804.6,851.4 805.9,852.4C807.2,853.4 810.1,858.6 811.5,861.6C812.9,864.6 815.5,872.8 817.1,876.5C818.7,880.2 822.9,887.1 824.5,891.3C826.1,895.5 828.7,904.6 830.1,909.9C831.5,915.2 834.2,927 835.6,934C837,941 839.8,956.9 841.2,965.5C842.6,974.1 845.4,993.3 846.8,1002.6C848.2,1011.9 851,1032.4 852.3,1039.7C853.6,1047 855.8,1057.3 857,1061C858.2,1064.7 860,1068.5 861.6,1069.4C863.2,1070.3 868.2,1067.2 870,1068.5C871.8,1069.8 874.7,1075.8 876,1079.6C877.3,1083.3 878.9,1093.3 880.1,1098.5C881.3,1103.7 884.3,1116 885.7,1121.2C887.1,1126.4 889.9,1136.1 891.3,1139.8C892.7,1143.5 894.9,1148.6 896.8,1150.9C898.6,1153.2 903.8,1155.8 906.1,1158.3C908.4,1160.8 913.1,1167.8 915.4,1171.3C917.7,1174.8 922.6,1182.2 924.7,1186.2C926.8,1190.2 930.2,1199.8 932.1,1202.9C934,1206 937.9,1212.8 939.5,1211.2C941.1,1209.6 943.9,1196.1 945.1,1189.9C946.3,1183.8 947.9,1169 948.8,1162C949.7,1155 951.2,1141.2 952.5,1134.2C953.8,1127.2 957.6,1113.5 959,1106.4C960.4,1099.3 962.5,1084.2 963.6,1077.7C964.7,1071.2 966.4,1061.1 967.8,1054C969.2,1046.9 973.1,1029.5 974.8,1021.2C976.4,1013 979.7,996.5 981,988C982.3,979.5 984.2,961.6 985.5,953C986.8,944.4 990,926.5 991.5,919.1C993,911.7 995.7,899.3 997.5,894C999.3,888.7 1003.3,881.3 1005.5,876.3C1007.7,871.3 1013.2,859.5 1015.3,854.2C1017.4,848.9 1021.1,838.2 1022.7,833.8C1024.3,829.4 1026.8,821.3 1028.2,819C1029.6,816.7 1032.3,814.6 1033.8,815.3C1035.3,816 1038.8,820.8 1040.3,824.5C1041.8,828.2 1044.4,838.9 1045.9,844.9C1047.4,850.9 1050.7,865.4 1052.4,872.8C1054.1,880.2 1058,896.6 1059.8,904.3C1061.6,911.9 1065.4,926.8 1067.2,934C1069,941.2 1072.6,954.8 1074.6,961.8C1076.6,968.8 1080.9,983 1083,989.7C1085.1,996.4 1089.1,1009.4 1091.3,1015.6C1093.5,1021.9 1098,1033.9 1100.6,1039.7C1103.1,1045.5 1109.1,1056.9 1111.7,1062.2C1114.3,1067.5 1119.2,1076.4 1121.5,1081.7C1123.8,1087.1 1128.3,1099 1130.3,1104.9C1132.3,1110.8 1135.9,1122.8 1137.7,1129.1C1139.5,1135.4 1143.2,1148.8 1145.1,1155C1146.9,1161.2 1150.6,1173.8 1152.5,1179.1C1154.4,1184.4 1157.9,1194.3 1160,1197.7C1162.1,1201.1 1166.9,1207.1 1169.2,1206.6C1171.5,1206.1 1176.5,1198.1 1178.5,1194C1180.5,1189.9 1183.4,1179.4 1185,1173.6C1186.6,1167.8 1189.9,1154.6 1191.5,1147.6C1193.1,1140.6 1196.4,1124.9 1198,1117.9C1199.6,1111 1202.4,1099.4 1204,1092C1205.6,1084.6 1209.2,1065 1210.5,1058.5C1211.8,1052 1213.4,1045.8 1214.7,1040C1216,1034.2 1219.4,1021.2 1221.2,1011.9C1223,1002.6 1227.5,975.9 1229.5,965.5C1231.5,955.1 1235.4,936.5 1237,928.4C1238.6,920.3 1241.2,907.6 1242.5,900.6C1243.8,893.6 1246.2,879.1 1247.2,872.8C1248.2,866.5 1249.6,854.7 1250.9,850.5C1252.2,846.3 1256.2,839.6 1257.7,839.4C1259.2,839.2 1261.5,846.9 1262.9,848.6C1264.3,850.3 1267.1,852.4 1268.6,853.4C1270,854.4 1272.9,855.3 1274.8,856.9C1276.8,858.4 1281.6,862.6 1284,865.7C1286.3,868.9 1291.4,877.2 1293.5,882C1295.6,886.8 1299.2,898.5 1301,904.3C1302.8,910.1 1305.9,922.4 1307.5,928.4C1309.1,934.4 1312.1,946.5 1313.9,952.5C1315.7,958.5 1319.8,971.4 1321.9,976.5C1324,981.6 1328.4,989.6 1330.6,993.4C1332.8,997.2 1337.1,1002.6 1339.2,1006.8C1341.3,1011 1345.6,1021.9 1347.3,1026.8C1349,1031.7 1351,1040.5 1352.5,1046C1354,1051.5 1357.7,1064 1359.4,1070.5C1361.1,1077 1364.4,1091.4 1366,1098C1367.6,1104.6 1371.2,1119 1372.4,1123.5C1373.6,1128 1374.3,1130.1 1375.8,1134.2C1377.3,1138.3 1381.9,1150.9 1384.1,1156.5C1386.3,1162.1 1391.2,1174.1 1393.4,1178.7C1395.6,1183.3 1399.8,1191.2 1401.7,1193.6C1403.6,1196 1406.7,1198.7 1408.6,1198.2C1410.5,1197.7 1414.7,1193.3 1416.6,1189.9C1418.5,1186.5 1422.2,1176.4 1424,1171.3C1425.8,1166.2 1429.6,1154.9 1431.4,1149.1C1433.2,1143.3 1437,1131 1438.8,1124.9C1440.6,1118.9 1444.2,1106.9 1446,1100.7C1447.8,1094.5 1451.6,1082.4 1453.5,1075C1455.4,1067.6 1459.6,1049.4 1461.1,1041.2C1462.6,1033 1464.8,1017.5 1465.8,1009.6C1466.8,1001.7 1468.6,985.8 1469.5,978.1C1470.4,970.5 1472.3,955.8 1473.2,948.4C1474.1,941 1475.9,925.2 1476.9,918.7C1477.9,912.2 1479.9,901.5 1481.2,896.7C1482.5,891.9 1485.2,883.7 1487,880.4C1488.7,877.1 1492.9,872.3 1494.9,870.2C1496.9,868.2 1501,865.4 1502.9,864C1504.8,862.6 1508.1,859.2 1509.9,859.4C1511.8,859.6 1515.8,863.6 1517.7,865.9C1519.6,868.2 1523.2,874.5 1525.1,877.9C1526.9,881.3 1530.6,889.1 1532.5,892.8C1534.4,896.5 1538.1,904.1 1540,907.6C1541.9,911.1 1545.6,917.4 1547.4,920.6C1549.2,923.9 1553,930.4 1554.8,933.6C1556.6,936.9 1560.6,943.1 1562.2,946.6C1563.8,950.1 1566.4,957.2 1567.8,961.4C1569.2,965.6 1572,974.9 1573.4,980C1574.8,985.1 1577.5,996.4 1578.9,1002.2C1580.3,1008 1583.1,1020.5 1584.5,1026.3C1585.9,1032.1 1588.8,1043.6 1590.1,1048.6C1591.4,1053.6 1593.6,1061.5 1595,1066C1596.4,1070.5 1599.4,1079.7 1601.2,1085C1603,1090.3 1607.4,1102.3 1609.5,1108.2C1611.6,1114.1 1615.8,1126.6 1617.9,1132.4C1620,1138.2 1624.2,1150 1626.2,1154.6C1628.2,1159.2 1631.7,1166.4 1633.7,1169.5C1635.7,1172.6 1639.8,1178.1 1642,1179.7C1644.2,1181.3 1648.6,1182.5 1650.9,1182.5C1653.2,1182.5 1658.2,1181.1 1660.6,1179.7C1663,1178.3 1667.7,1174 1669.8,1171.3C1671.9,1168.6 1675.7,1162.2 1677.3,1158.3C1678.9,1154.4 1681.5,1145 1682.8,1139.8C1684.1,1134.6 1686.7,1123.2 1687.8,1117C1688.9,1110.8 1690.8,1096.1 1691.8,1090C1692.8,1083.9 1695,1073.6 1696,1068C1697,1062.4 1698.9,1051.9 1700,1045C1701.1,1038.1 1703.6,1021.2 1704.8,1013C1706,1004.8 1708.3,987.4 1709.5,979C1710.7,970.6 1712.8,953.5 1714,945.5C1715.2,937.5 1717.9,921.2 1719,915C1720.1,908.8 1721.6,900.4 1722.8,896C1724,891.6 1727.1,883.1 1728.8,879.8C1730.5,876.5 1734.4,871.8 1736.3,869.9C1738.3,868.1 1741.7,865.9 1744.5,865.2C1747.3,864.5 1755.5,863.6 1758.4,864C1761.3,864.4 1765.5,866.9 1767.7,868.6C1769.9,870.3 1774.1,874.9 1776.1,877.9C1778.1,880.9 1781.7,888.6 1783.5,892.8C1785.3,897 1789.2,906.7 1790.9,911.3C1792.6,915.9 1795.8,924.6 1797.4,929.9C1799,935.2 1802.4,948 1803.9,954C1805.4,960 1808.1,971.8 1809.5,978.1C1810.9,984.4 1813.6,997.8 1815,1004.1C1816.4,1010.4 1819,1022.2 1820.6,1028.2C1822.2,1034.2 1826,1047.4 1827.6,1052.1C1829.3,1056.8 1831.9,1062 1833.6,1066C1835.3,1070 1839,1079.4 1841,1084C1843,1088.6 1847.1,1097.6 1849.4,1102.5C1851.7,1107.4 1857.2,1118 1859.6,1123.1C1862,1128.2 1866.5,1138.9 1868.8,1143.5C1871.1,1148.1 1875.8,1156.5 1878.1,1160.2C1880.4,1163.9 1885.1,1170.3 1887.4,1173.2C1889.7,1176.1 1894.3,1181.2 1896.7,1183.4C1899.1,1185.6 1904.6,1191.4 1906.9,1190.8C1909.2,1190.2 1913.6,1182.5 1915.2,1178.7C1916.8,1174.9 1918.9,1165.3 1919.9,1160.2C1921,1155.1 1922.6,1143.3 1923.6,1137.9C1924.6,1132.5 1926.7,1122.8 1927.8,1117C1928.9,1111.2 1931.5,1096.4 1932.4,1091.6C1933.4,1086.9 1934.6,1083.5 1935.6,1079C1936.6,1074.5 1939,1063 1940.3,1056C1941.6,1049 1944.4,1031.4 1945.8,1022.6C1947.2,1013.8 1950,994.1 1951.4,985.5C1952.8,976.9 1955.5,961 1957,954C1958.5,947 1961.8,935.9 1963.5,929.9C1965.2,923.9 1969.1,911.6 1970.9,905.8C1972.8,900 1976.5,888.4 1978.3,883.5C1980.1,878.6 1983.9,870.5 1985.7,866.8C1987.5,863.1 1990.9,856.5 1993.1,853.8C1995.3,851.1 2001,845.5 2003.3,845.5C2005.6,845.5 2009.5,850.4 2011.7,853.8C2013.9,857.2 2019.8,870.1 2021,872.4"/>
</g>
<g stroke="#000" stroke-width="6.2" stroke-dasharray="19.5 24.67" fill="none">
<line x1="1120.7" y1="71.6" x2="1120.7" y2="1548.2"/>
<line x1="1241" y1="71.6" x2="1241" y2="1548.2"/>
<line x1="1361.4" y1="71.6" x2="1361.4" y2="1548.2"/>
<line x1="1481.7" y1="71.6" x2="1481.7" y2="1548.2"/>
<line x1="1602" y1="71.6" x2="1602" y2="1548.2"/>
<line x1="1722.3" y1="71.6" x2="1722.3" y2="1548.2"/>
<line x1="1842.7" y1="71.6" x2="1842.7" y2="1548.2"/>
<line x1="1963" y1="71.6" x2="1963" y2="1548.2"/>
</g>
<g stroke="#000" stroke-width="7.0" fill="none" stroke-linecap="butt">
<path stroke-linecap="square" d="M263.5,49.3L263.5,1548.2L2156.5,1548.2L2156.5,49.3"/>
<path stroke-width="6.3" stroke-linecap="butt" d="M260,48.1L2157,48.1"/>
<line x1="397.8" y1="1548.2" x2="397.8" y2="1519.2"/>
<line x1="397.8" y1="48.3" x2="397.8" y2="69.8"/>
<line x1="533.1" y1="1548.2" x2="533.1" y2="1533.2"/>
<line x1="533.1" y1="48.3" x2="533.1" y2="59.8"/>
<line x1="668.4" y1="1548.2" x2="668.4" y2="1519.2"/>
<line x1="668.4" y1="48.3" x2="668.4" y2="69.8"/>
<line x1="803.7" y1="1548.2" x2="803.7" y2="1533.2"/>
<line x1="803.7" y1="48.3" x2="803.7" y2="59.8"/>
<line x1="938.9" y1="1548.2" x2="938.9" y2="1519.2"/>
<line x1="938.9" y1="48.3" x2="938.9" y2="69.8"/>
<line x1="1074.2" y1="1548.2" x2="1074.2" y2="1533.2"/>
<line x1="1074.2" y1="48.3" x2="1074.2" y2="59.8"/>
<line x1="1209.5" y1="1548.2" x2="1209.5" y2="1519.2"/>
<line x1="1209.5" y1="48.3" x2="1209.5" y2="69.8"/>
<line x1="1344.8" y1="1548.2" x2="1344.8" y2="1533.2"/>
<line x1="1344.8" y1="48.3" x2="1344.8" y2="59.8"/>
<line x1="1480.1" y1="1548.2" x2="1480.1" y2="1519.2"/>
<line x1="1480.1" y1="48.3" x2="1480.1" y2="69.8"/>
<line x1="1615.4" y1="1548.2" x2="1615.4" y2="1533.2"/>
<line x1="1615.4" y1="48.3" x2="1615.4" y2="59.8"/>
<line x1="1750.6" y1="1548.2" x2="1750.6" y2="1519.2"/>
<line x1="1750.6" y1="48.3" x2="1750.6" y2="69.8"/>
<line x1="1885.9" y1="1548.2" x2="1885.9" y2="1533.2"/>
<line x1="1885.9" y1="48.3" x2="1885.9" y2="59.8"/>
<line x1="2021.2" y1="1548.2" x2="2021.2" y2="1519.2"/>
<line x1="2021.2" y1="48.3" x2="2021.2" y2="69.8"/>
<line x1="263.5" y1="1411.8" x2="292.5" y2="1411.8"/>
<line x1="2156.5" y1="1411.8" x2="2135" y2="1411.8"/>
<line x1="263.5" y1="1275.5" x2="278.5" y2="1275.5"/>
<line x1="2156.5" y1="1275.5" x2="2145" y2="1275.5"/>
<line x1="263.5" y1="1139.1" x2="292.5" y2="1139.1"/>
<line x1="2156.5" y1="1139.1" x2="2135" y2="1139.1"/>
<line x1="263.5" y1="1002.8" x2="278.5" y2="1002.8"/>
<line x1="2156.5" y1="1002.8" x2="2145" y2="1002.8"/>
<line x1="263.5" y1="866.4" x2="292.5" y2="866.4"/>
<line x1="2156.5" y1="866.4" x2="2135" y2="866.4"/>
<line x1="263.5" y1="730.1" x2="278.5" y2="730.1"/>
<line x1="2156.5" y1="730.1" x2="2145" y2="730.1"/>
<line x1="263.5" y1="593.7" x2="292.5" y2="593.7"/>
<line x1="2156.5" y1="593.7" x2="2135" y2="593.7"/>
<line x1="263.5" y1="457.4" x2="278.5" y2="457.4"/>
<line x1="2156.5" y1="457.4" x2="2145" y2="457.4"/>
<line x1="263.5" y1="321" x2="292.5" y2="321"/>
<line x1="2156.5" y1="321" x2="2135" y2="321"/>
<line x1="263.5" y1="184.7" x2="278.5" y2="184.7"/>
<line x1="2156.5" y1="184.7" x2="2145" y2="184.7"/>
</g>
<g font-size="72.6px">
<text x="397.8" y="1636" text-anchor="middle">0</text>
<text x="668.4" y="1636" text-anchor="middle">1000</text>
<text x="938.9" y="1636" text-anchor="middle">2000</text>
<text x="1209.5" y="1636" text-anchor="middle">3000</text>
<text x="1480.1" y="1636" text-anchor="middle">4000</text>
<text x="1750.6" y="1636" text-anchor="middle">5000</text>
<text x="2021.2" y="1636" text-anchor="middle">6000</text>
<text x="229" y="1432.6" text-anchor="end">0.8</text>
<text x="229" y="1159.9" text-anchor="end">1.2</text>
<text x="229" y="887.2" text-anchor="end">1.6</text>
<text x="229" y="614.5" text-anchor="end">2.0</text>
<text x="229" y="341.8" text-anchor="end">2.4</text>
<text x="229" y="69.1" text-anchor="end">2.8</text>
</g>
<text font-size="77.6px" transform="translate(85.3,1100.5) rotate(-90)">Total Pressure (MPa)</text>
<text class="it" font-size="87.5px" transform="translate(1078.6,1722.5) scale(1.1,1)">t</text>
<text font-size="78px" y="1722.5"><tspan x="1125.5" font-size="85px">(</tspan><tspan x="1158.3">µ</tspan><tspan x="1202.5" font-size="80px">s</tspan><tspan x="1235.5" font-size="85px">)</tspan></text>
<line x1="642" y1="148.4" x2="790" y2="148.4" stroke="#000" stroke-width="9"/>
<text class="it" font-size="78px" text-anchor="middle" transform="translate(833.3,169.9) scale(1.17,1)">θ</text>
<text font-size="78px" transform="translate(866.5,169.9) scale(1.06,1)">=</text>
<text font-size="78px" x="952" y="169.9">0</text>
<text font-size="80px" x="990.5" y="169.9">°</text>
<line x1="642" y1="254" x2="790" y2="254" stroke="#ff0000" stroke-width="9"/>
<text class="it" font-size="78px" text-anchor="middle" transform="translate(836.7,275.4) scale(1.17,1)">θ</text>
<text font-size="78px" transform="translate(870,275.4) scale(1.06,1)">=</text>
<text font-size="78px" x="934" y="275.4">15</text>
<text font-size="80px" x="1013.5" y="275.4">°</text>
<line x1="642" y1="359.5" x2="790" y2="359.5" stroke="#0000ff" stroke-width="9"/>
<text class="it" font-size="78px" text-anchor="middle" transform="translate(836.7,380.9) scale(1.17,1)">θ</text>
<text font-size="78px" transform="translate(870,380.9) scale(1.06,1)">=</text>
<text font-size="78px" x="934" y="380.9">30</text>
<text font-size="80px" x="1013.5" y="380.9">°</text>
<line x1="642" y1="464.4" x2="790" y2="464.4" stroke="#008000" stroke-width="9"/>
<text class="it" font-size="78px" text-anchor="middle" transform="translate(836.7,485.5) scale(1.17,1)">θ</text>
<text font-size="78px" transform="translate(870,485.5) scale(1.06,1)">=</text>
<text font-size="78px" x="934" y="485.5">45</text>
<text font-size="80px" x="1013.5" y="485.5">°</text>
<rect x="1466" y="85.5" width="608" height="112" fill="#fff"/>
<text font-size="79.5px" x="1470" y="165.8">Propaganda period</text>
<g stroke="#000" stroke-width="6" fill="#000" stroke-linejoin="round">
<line x1="1615.5" y1="234.3" x2="1701.3" y2="234.3"/>
<path stroke-width="3" d="M1597,234.3 L1635.5,224.7 L1635.5,243.9 Z"/>
<path stroke-width="3" d="M1719.8,234.3 L1681.3,224.7 L1681.3,243.9 Z"/>
<line x1="1741.7" y1="234.3" x2="1821.3" y2="234.3"/>
<path stroke-width="3" d="M1723.2,234.3 L1761.7,224.7 L1761.7,243.9 Z"/>
<path stroke-width="3" d="M1839.8,234.3 L1801.3,224.7 L1801.3,243.9 Z"/>
<line x1="1861.7" y1="234.3" x2="1941.5" y2="234.3"/>
<path stroke-width="3" d="M1843.2,234.3 L1881.7,224.7 L1881.7,243.9 Z"/>
<path stroke-width="3" d="M1960,234.3 L1921.5,224.7 L1921.5,243.9 Z"/>
</g>
</svg></body></html>
